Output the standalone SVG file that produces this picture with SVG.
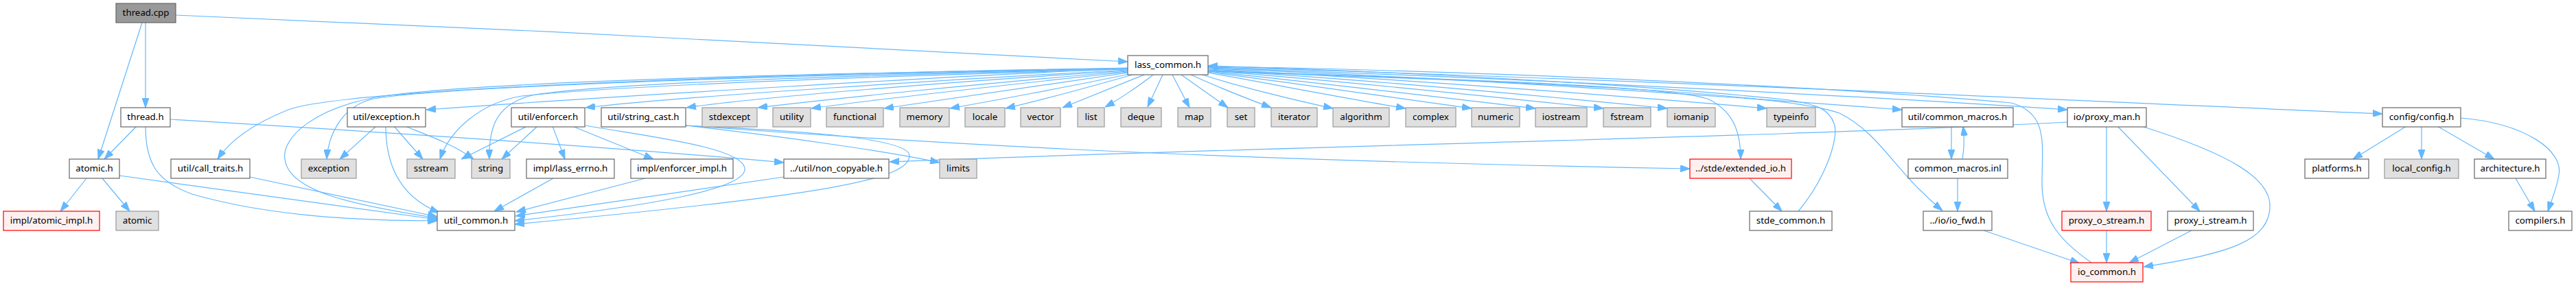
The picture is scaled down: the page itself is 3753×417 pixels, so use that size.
<svg xmlns="http://www.w3.org/2000/svg" width="3753" height="417" viewBox="0 0 3753 417">
<style>
.e{fill:none;stroke:#63b8ff;stroke-width:1.2;marker-end:url(#ah)}
.node rect{fill:#fff;stroke:#666;stroke-width:1.2}
.node.x rect{fill:#e0e0e0;stroke:#999}
.node.r rect{fill:#fff0f0;stroke:#f00}
.node.root rect{fill:#999;stroke:#666}
.node text{font-family:"Noto Sans","Open Sans","DejaVu Sans",sans-serif;font-size:13.33px;fill:#000;text-anchor:middle}
</style>
<defs>
<marker id="ah" viewBox="0 0 14 10" refX="14" refY="5" markerWidth="14" markerHeight="10" markerUnits="userSpaceOnUse" orient="auto">
<path d="M0,0 L14,5 L0,10 z" fill="#63b8ff" stroke="#63b8ff"/>
</marker>
</defs>
<rect width="3753" height="417" fill="#fff"/>
<g id="edges">
<path class="e" d="M256,22 C700,40 1300,70 1643,90"/>
<path class="e" d="M212,33 L212,157"/>
<path class="e" d="M207,33 L143,232"/>
<path class="e" d="M199,184 L152,232"/>
<path class="e" d="M248,174 C600,195 900,215 1142,237"/>
<path class="e" d="M212,184 C212,240 230,265 280,283 C380,312 500,322 637,322"/>
<path class="e" d="M126,260 L88,308"/>
<path class="e" d="M149,260 L189,308"/>
<path class="e" d="M174,256 L637,320"/>
<path class="e" d="M364,258 L637,316"/>
<path class="e" d="M548,184 L495,232"/>
<path class="e" d="M574,184 L616,232"/>
<path class="e" d="M590,184 C620,196 660,210 690,232"/>
<path class="e" d="M562,184 C562,250 590,290 640,310"/>
<path class="e" d="M768,184 L672,232"/>
<path class="e" d="M783,184 L731,232"/>
<path class="e" d="M805,184 L823,232"/>
<path class="e" d="M834,184 L952,232"/>
<path class="e" d="M853,183 C950,200 1080,215 1085,245 C1090,275 950,300 750,322"/>
<path class="e" d="M806,260 L720,308"/>
<path class="e" d="M940,260 L752,309"/>
<path class="e" d="M1142,258 L751,315"/>
<path class="e" d="M999,183 C1150,190 1325,200 1325,227 C1325,262 1200,285 750,327"/>
<path class="e" d="M999,183 C1150,200 1300,222 1369,237"/>
<path class="e" d="M999,183 C1300,205 1700,232 2462,246"/>
<path class="e" d="M3012,178 C2600,200 1800,215 1296,236"/>
<path class="e" d="M3069,184 L3069,308"/>
<path class="e" d="M3085,184 L3205,308"/>
<path class="e" d="M3120,184 C3250,225 3307,260 3307,300 C3307,350 3250,370 3123,389"/>
<path class="e" d="M3069,336 L3069,383"/>
<path class="e" d="M3193,336 L3102,383"/>
<path class="e" d="M2890,336 L3030,384"/>
<path class="e" d="M2843,184 L2843,232"/>
<path class="e" d="M2859,232 C2862,215 2862,200 2860,184"/>
<path class="e" d="M2852,260 L2852,308"/>
<path class="e" d="M2549,260 L2596,308"/>
<path class="e" d="M3506,184 L3428,232"/>
<path class="e" d="M3528,184 L3528,232"/>
<path class="e" d="M3551,184 L3634,232"/>
<path class="e" d="M3585,172 C3680,180 3735,220 3728,255 C3725,275 3718,290 3712,308"/>
<path class="e" d="M3665,260 L3693,308"/>
<path class="e" d="M1643,100 C1400,110 900,140 621,160"/>
<path class="e" d="M1643,102 C1400,115 1000,140 853,157"/>
<path class="e" d="M1643,103 C1400,118 1100,142 1000,157"/>
<path class="e" d="M1643,104 C1450,120 1200,145 1104,157"/>
<path class="e" d="M1643,105 C1480,122 1260,147 1182,158"/>
<path class="e" d="M1643,106 C1520,124 1360,148 1288,158"/>
<path class="e" d="M1645,108 C1560,126 1430,150 1384,158"/>
<path class="e" d="M1650,109 C1590,126 1500,150 1465,158"/>
<path class="e" d="M1667,109 C1620,128 1570,148 1548,157"/>
<path class="e" d="M1680,109 C1660,125 1630,145 1610,156"/>
<path class="e" d="M1694,109 L1672,156"/>
<path class="e" d="M1708,109 L1733,157"/>
<path class="e" d="M1721,109 L1789,157"/>
<path class="e" d="M1735,109 C1770,125 1820,145 1852,157"/>
<path class="e" d="M1752,109 C1800,125 1890,147 1942,158"/>
<path class="e" d="M1760,106 C1850,122 1980,147 2048,158"/>
<path class="e" d="M1760,105 C1880,120 2060,147 2144,158"/>
<path class="e" d="M1760,104 C1900,118 2140,147 2237,158"/>
<path class="e" d="M1760,103 C1950,117 2230,147 2336,158"/>
<path class="e" d="M1760,102 C2000,116 2320,147 2429,158"/>
<path class="e" d="M1760,101 C2050,115 2450,147 2574,158"/>
<path class="e" d="M1760,100 C2150,114 2600,147 2771,160"/>
<path class="e" d="M1760,99 C2200,113 2800,145 3012,160"/>
<path class="e" d="M1760,98 C2300,112 3100,150 3471,166"/>
<path class="e" d="M1643,99 C1100,108 500,130 420,160 C370,180 335,205 317,232"/>
<path class="e" d="M1643,100 C1100,110 620,128 540,145 C495,158 478,200 476,232"/>
<path class="e" d="M1643,101 C1250,112 900,125 760,140 C700,150 655,190 641,232"/>
<path class="e" d="M1643,100 C1250,110 900,120 780,138 C720,150 712,190 713,232"/>
<path class="e" d="M1643,100 C1100,108 700,120 560,140 C460,155 410,200 415,232 C420,280 520,300 637,318"/>
<path class="e" d="M1760,103 C2100,115 2440,125 2490,145 C2530,165 2536,200 2536,232"/>
<path class="e" d="M1760,104 C2200,118 2600,135 2680,165 C2740,195 2760,250 2830,307"/>
<path class="e" d="M2620,308 C2660,260 2680,200 2672,180 C2665,160 2650,152 2600,145 C2300,115 1900,100 1760,96"/>
<path class="e" d="M3047,383 C3000,350 2975,320 2975,267 C2975,210 2985,165 2930,150 C2600,120 2000,100 1760,97"/>
</g>
<g id="n_thread_cpp" class="node root"><rect x="169" y="5" width="87" height="28"/><text x="212.5" y="23">thread.cpp</text></g>
<g id="n_lass_common" class="node"><rect x="1643" y="81" width="117" height="28"/><text x="1701.5" y="99">lass_common.h</text></g>
<g id="n_thread_h" class="node"><rect x="176" y="157" width="72" height="28"/><text x="212" y="175">thread.h</text></g>
<g id="n_exception_h" class="node"><rect x="506" y="157" width="114" height="28"/><text x="563" y="175">util/exception.h</text></g>
<g id="n_enforcer_h" class="node"><rect x="745" y="157" width="107" height="28"/><text x="798.5" y="175">util/enforcer.h</text></g>
<g id="n_string_cast" class="node"><rect x="876" y="157" width="123" height="28"/><text x="937.5" y="175">util/string_cast.h</text></g>
<g id="n_stdexcept" class="node x"><rect x="1023" y="157" width="80" height="28"/><text x="1063" y="175">stdexcept</text></g>
<g id="n_utility" class="node x"><rect x="1126" y="157" width="55" height="28"/><text x="1153.5" y="175">utility</text></g>
<g id="n_functional" class="node x"><rect x="1204" y="157" width="83" height="28"/><text x="1245.5" y="175">functional</text></g>
<g id="n_memory" class="node x"><rect x="1311" y="157" width="72" height="28"/><text x="1347" y="175">memory</text></g>
<g id="n_locale" class="node x"><rect x="1406" y="157" width="58" height="28"/><text x="1435" y="175">locale</text></g>
<g id="n_vector" class="node x"><rect x="1487" y="157" width="58" height="28"/><text x="1516" y="175">vector</text></g>
<g id="n_list" class="node x"><rect x="1570" y="157" width="39" height="28"/><text x="1589.5" y="175">list</text></g>
<g id="n_deque" class="node x"><rect x="1633" y="157" width="59" height="28"/><text x="1662.5" y="175">deque</text></g>
<g id="n_map" class="node x"><rect x="1716" y="157" width="48" height="28"/><text x="1740" y="175">map</text></g>
<g id="n_set" class="node x"><rect x="1788" y="157" width="40" height="28"/><text x="1808" y="175">set</text></g>
<g id="n_iterator" class="node x"><rect x="1852" y="157" width="67" height="28"/><text x="1885.5" y="175">iterator</text></g>
<g id="n_algorithm" class="node x"><rect x="1942" y="157" width="82" height="28"/><text x="1983" y="175">algorithm</text></g>
<g id="n_complex" class="node x"><rect x="2048" y="157" width="73" height="28"/><text x="2084.5" y="175">complex</text></g>
<g id="n_numeric" class="node x"><rect x="2144" y="157" width="70" height="28"/><text x="2179" y="175">numeric</text></g>
<g id="n_iostream" class="node x"><rect x="2237" y="157" width="75" height="28"/><text x="2274.5" y="175">iostream</text></g>
<g id="n_fstream" class="node x"><rect x="2336" y="157" width="69" height="28"/><text x="2370.5" y="175">fstream</text></g>
<g id="n_iomanip" class="node x"><rect x="2429" y="157" width="70" height="28"/><text x="2464" y="175">iomanip</text></g>
<g id="n_typeinfo" class="node x"><rect x="2574" y="157" width="71" height="28"/><text x="2609.5" y="175">typeinfo</text></g>
<g id="n_common_macros_h" class="node"><rect x="2771" y="157" width="162" height="28"/><text x="2852" y="175">util/common_macros.h</text></g>
<g id="n_proxy_man" class="node"><rect x="3012" y="157" width="115" height="28"/><text x="3069.5" y="175">io/proxy_man.h</text></g>
<g id="n_config" class="node"><rect x="3471" y="157" width="114" height="28"/><text x="3528" y="175">config/config.h</text></g>
<g id="n_atomic_h" class="node"><rect x="101" y="232" width="73" height="28"/><text x="137.5" y="250">atomic.h</text></g>
<g id="n_call_traits" class="node"><rect x="249" y="232" width="115" height="28"/><text x="306.5" y="250">util/call_traits.h</text></g>
<g id="n_exception" class="node x"><rect x="439" y="232" width="80" height="28"/><text x="479" y="250">exception</text></g>
<g id="n_sstream" class="node x"><rect x="593" y="232" width="70" height="28"/><text x="628" y="250">sstream</text></g>
<g id="n_string" class="node x"><rect x="687" y="232" width="56" height="28"/><text x="715" y="250">string</text></g>
<g id="n_lass_errno" class="node"><rect x="767" y="232" width="128" height="28"/><text x="831" y="250">impl/lass_errno.h</text></g>
<g id="n_enforcer_impl" class="node"><rect x="919" y="232" width="149" height="28"/><text x="993.5" y="250">impl/enforcer_impl.h</text></g>
<g id="n_non_copyable" class="node"><rect x="1142" y="232" width="153" height="28"/><text x="1218.5" y="250">../util/non_copyable.h</text></g>
<g id="n_limits" class="node x"><rect x="1369" y="232" width="54" height="28"/><text x="1396" y="250">limits</text></g>
<g id="n_extended_io" class="node r"><rect x="2462" y="232" width="148" height="28"/><text x="2536" y="250">../stde/extended_io.h</text></g>
<g id="n_common_macros_inl" class="node"><rect x="2780" y="232" width="145" height="28"/><text x="2852.5" y="250">common_macros.inl</text></g>
<g id="n_platforms" class="node"><rect x="3358" y="232" width="93" height="28"/><text x="3404.5" y="250">platforms.h</text></g>
<g id="n_local_config" class="node x"><rect x="3474" y="232" width="108" height="28"/><text x="3528" y="250">local_config.h</text></g>
<g id="n_architecture" class="node"><rect x="3605" y="232" width="104" height="28"/><text x="3657" y="250">architecture.h</text></g>
<g id="n_atomic_impl" class="node r"><rect x="5" y="308" width="140" height="28"/><text x="75" y="326">impl/atomic_impl.h</text></g>
<g id="n_atomic" class="node x"><rect x="169" y="308" width="62" height="28"/><text x="200" y="326">atomic</text></g>
<g id="n_util_common" class="node"><rect x="637" y="308" width="113" height="28"/><text x="693.5" y="326">util_common.h</text></g>
<g id="n_stde_common" class="node"><rect x="2549" y="308" width="120" height="28"/><text x="2609" y="326">stde_common.h</text></g>
<g id="n_io_fwd" class="node"><rect x="2802" y="308" width="100" height="28"/><text x="2852" y="326">../io/io_fwd.h</text></g>
<g id="n_proxy_o" class="node r"><rect x="3004" y="308" width="130" height="28"/><text x="3069" y="326">proxy_o_stream.h</text></g>
<g id="n_proxy_i" class="node"><rect x="3158" y="308" width="125" height="28"/><text x="3220.5" y="326">proxy_i_stream.h</text></g>
<g id="n_compilers" class="node"><rect x="3655" y="308" width="92" height="28"/><text x="3701" y="326">compilers.h</text></g>
<g id="n_io_common" class="node r"><rect x="3017" y="383" width="105" height="28"/><text x="3069.5" y="401">io_common.h</text></g>
</svg>
